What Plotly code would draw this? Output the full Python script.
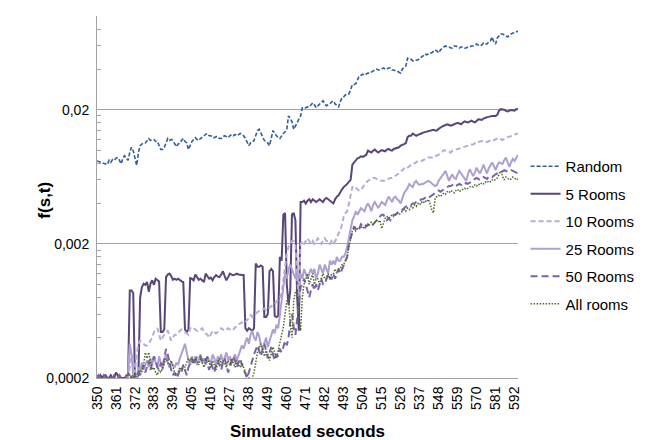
import plotly.graph_objects as go

seconds = list(range(350, 595))
tick_seconds = [350, 361, 372, 383, 394, 405, 416, 427, 438, 449, 460, 471,
                482, 493, 504, 515, 526, 537, 548, 559, 570, 581, 592]
y_major = [0.0002, 0.002, 0.02]
y_major_text = ["0,0002", "0,002", "0,02"]
y_minor = [0.0004, 0.0006, 0.0008, 0.0010, 0.0012, 0.0014, 0.0016, 0.0018,
           0.004, 0.006, 0.008, 0.010, 0.012, 0.014, 0.016, 0.018,
           0.04, 0.06, 0.08, 0.1]

random_vals = [
    0.0083, 0.0082, 0.0081, 0.0081, 0.0079, 0.0079, 0.0078, 0.0084, 0.0081, 0.0085,
    0.0084, 0.0087, 0.0088, 0.0084, 0.0079, 0.0087, 0.0091, 0.0087, 0.0084, 0.0096,
    0.0105, 0.0099, 0.0087, 0.0077, 0.0096, 0.0108, 0.0111, 0.0113, 0.0113, 0.0118,
    0.0122, 0.0118, 0.0120, 0.0120, 0.0116, 0.0116, 0.0108, 0.0101, 0.0101, 0.0105,
    0.0113, 0.0122, 0.0118, 0.0120, 0.0118, 0.0111, 0.0106, 0.0111, 0.0113, 0.0118,
    0.0122, 0.0116, 0.0113, 0.0101, 0.0108, 0.0116, 0.0120, 0.0124, 0.0120, 0.0118,
    0.0122, 0.0126, 0.0128, 0.0131, 0.0133, 0.0128, 0.0128, 0.0124, 0.0124, 0.0126,
    0.0126, 0.0122, 0.0122, 0.0126, 0.0128, 0.0126, 0.0124, 0.0128, 0.0131, 0.0128,
    0.0131, 0.0128, 0.0131, 0.0133, 0.0131, 0.0128, 0.0122, 0.0114, 0.0108, 0.0113,
    0.0114, 0.0118, 0.0128, 0.0140, 0.0143, 0.0135, 0.0128, 0.0118, 0.0116, 0.0113,
    0.0108, 0.0124, 0.0140, 0.0133, 0.0128, 0.0124, 0.0122, 0.0128, 0.0133, 0.0137,
    0.0143, 0.0180, 0.0173, 0.0163, 0.0143, 0.0152, 0.0157, 0.0168, 0.0180, 0.0207,
    0.0205, 0.0207, 0.0210, 0.0210, 0.0218, 0.0225, 0.0218, 0.0207, 0.0214, 0.0221,
    0.0229, 0.0233, 0.0221, 0.0214, 0.0218, 0.0221, 0.0229, 0.0233, 0.0221, 0.0214,
    0.0210, 0.0229, 0.0246, 0.0250, 0.0259, 0.0259, 0.0263, 0.0282, 0.0308, 0.0308,
    0.0313, 0.0335, 0.0358, 0.0362, 0.0368, 0.0362, 0.0368, 0.0375, 0.0375, 0.0381,
    0.0390, 0.0396, 0.0402, 0.0396, 0.0396, 0.0402, 0.0410, 0.0402, 0.0402, 0.0410,
    0.0410, 0.0396, 0.0396, 0.0390, 0.0390, 0.0381, 0.0375, 0.0402, 0.0416, 0.0425,
    0.0485, 0.0477, 0.0477, 0.0463, 0.0463, 0.0470, 0.0470, 0.0485, 0.0493, 0.0504,
    0.0522, 0.0513, 0.0522, 0.0531, 0.0531, 0.0549, 0.0558, 0.0549, 0.0531, 0.0558,
    0.0577, 0.0588, 0.0598, 0.0588, 0.0588, 0.0577, 0.0577, 0.0598, 0.0598, 0.0588,
    0.0577, 0.0588, 0.0588, 0.0577, 0.0577, 0.0588, 0.0588, 0.0598, 0.0598, 0.0607,
    0.0618, 0.0607, 0.0598, 0.0607, 0.0629, 0.0618, 0.0618, 0.0640, 0.0652, 0.0697,
    0.0640, 0.0618, 0.0686, 0.0710, 0.0735, 0.0735, 0.0722, 0.0710, 0.0697, 0.0722,
    0.0735, 0.0747, 0.0747, 0.0760, 0.0773,
]

rooms5_vals = [
    0.00021, 0.00020, 0.00021, 0.00020, 0.00021, 0.00021, 0.00020, 0.00020, 0.00021, 0.00020,
    0.00020, 0.00022, 0.00021, 0.00020, 0.00020, 0.00020, 0.00020, 0.00020, 0.00021, 0.00090,
    0.00090, 0.00086, 0.00020, 0.00020, 0.00021, 0.00080, 0.00095, 0.00101, 0.00099, 0.00104,
    0.00088, 0.00101, 0.00107, 0.00099, 0.00110, 0.00107, 0.00105, 0.00044, 0.00044, 0.00046,
    0.00113, 0.00118, 0.00120, 0.00115, 0.00108, 0.00110, 0.00108, 0.00110, 0.00107, 0.00105,
    0.00104, 0.00046, 0.00044, 0.00046, 0.00111, 0.00110, 0.00107, 0.00118, 0.00113, 0.00108,
    0.00110, 0.00107, 0.00104, 0.00120, 0.00115, 0.00110, 0.00112, 0.00107, 0.00113, 0.00117,
    0.00114, 0.00113, 0.00118, 0.00125, 0.00115, 0.00107, 0.00113, 0.00120, 0.00118, 0.00117,
    0.00118, 0.00120, 0.00118, 0.00117, 0.00117, 0.00117, 0.00047, 0.00045, 0.00047, 0.00046,
    0.00045, 0.00047, 0.00143, 0.00135, 0.00135, 0.00138, 0.00135, 0.00057, 0.00057, 0.00060,
    0.00125, 0.00130, 0.00125, 0.00058, 0.00057, 0.00058, 0.00160, 0.00150, 0.00330, 0.00340,
    0.00100, 0.00070, 0.00090, 0.00330, 0.00340, 0.00300, 0.00080, 0.00045, 0.00410, 0.00410,
    0.0042, 0.0040, 0.0042, 0.0043, 0.0041, 0.0043, 0.0042, 0.0041, 0.0042, 0.0043,
    0.0042, 0.0041, 0.0043, 0.0044, 0.0043, 0.0042, 0.0041, 0.0040, 0.0043, 0.0045,
    0.0046, 0.0049, 0.0051, 0.0053, 0.0055, 0.0056, 0.0058, 0.0060, 0.0078, 0.0081,
    0.0084, 0.0087, 0.0088, 0.0090, 0.0089, 0.0090, 0.0092, 0.0099, 0.0098, 0.0096,
    0.0099, 0.0101, 0.0098, 0.0096, 0.0098, 0.0100, 0.0099, 0.0098, 0.0101, 0.0102,
    0.0100, 0.0099, 0.0102, 0.0103, 0.0104, 0.0105, 0.0108, 0.0109, 0.0111, 0.0113,
    0.0125, 0.0128, 0.0128, 0.0133, 0.0131, 0.0128, 0.0130, 0.0131, 0.0133, 0.0135,
    0.0136, 0.0137, 0.0138, 0.0140, 0.0141, 0.0142, 0.0140, 0.0140, 0.0144, 0.0148,
    0.0150, 0.0152, 0.0154, 0.0156, 0.0154, 0.0152, 0.0154, 0.0156, 0.0158, 0.0160,
    0.0158, 0.0156, 0.0160, 0.0164, 0.0162, 0.0161, 0.0163, 0.0166, 0.0163, 0.0161,
    0.0165, 0.0170, 0.0169, 0.0168, 0.0172, 0.0175, 0.0176, 0.0177, 0.0179, 0.0180,
    0.0180, 0.0180, 0.0183, 0.0197, 0.0202, 0.0202, 0.0200, 0.0196, 0.0194, 0.0197,
    0.0199, 0.0198, 0.0197, 0.0202, 0.0203,
]

rooms10_vals = [
    0.00019, 0.00019, 0.00019, 0.00019, 0.00019, 0.00019, 0.00019, 0.00019, 0.00019, 0.00019,
    0.00019, 0.00019, 0.00019, 0.00019, 0.00019, 0.00019, 0.00019, 0.00019, 0.00020, 0.00025,
    0.00030, 0.00026, 0.00022, 0.00030, 0.00036, 0.00038, 0.00037, 0.00036, 0.00035, 0.00035,
    0.00036, 0.00038, 0.00040, 0.00044, 0.00046, 0.00047, 0.00042, 0.00038, 0.00040, 0.00042,
    0.00044, 0.00045, 0.00041, 0.00038, 0.00040, 0.00042, 0.00042, 0.00043, 0.00045, 0.00046,
    0.00045, 0.00044, 0.00043, 0.00042, 0.00047, 0.00048, 0.00047, 0.00046, 0.00045, 0.00046,
    0.00046, 0.00047, 0.00044, 0.00043, 0.00042, 0.00040, 0.00043, 0.00045, 0.00044, 0.00043,
    0.00044, 0.00045, 0.00047, 0.00046, 0.00045, 0.00046, 0.00047, 0.00046, 0.00045, 0.00046,
    0.00048, 0.00049, 0.00050, 0.00051, 0.00052, 0.00051, 0.00053, 0.00054, 0.00056, 0.00059,
    0.00057, 0.00059, 0.00061, 0.00062, 0.00063, 0.00064, 0.00065, 0.00066, 0.00064, 0.00065,
    0.00067, 0.00068, 0.00070, 0.00072, 0.00074, 0.00076, 0.00079, 0.00085, 0.0011, 0.0014,
    0.0017, 0.0019, 0.0020, 0.0021, 0.0021, 0.0020, 0.0011, 0.0008, 0.0020, 0.0021,
    0.0020, 0.0021, 0.0022, 0.0021, 0.0020, 0.0021, 0.0020, 0.0021, 0.0022, 0.0021,
    0.0020, 0.0021, 0.0022, 0.0021, 0.0021, 0.0020, 0.0021, 0.0020, 0.0021, 0.0022,
    0.0024, 0.0025, 0.0028, 0.0032, 0.0034, 0.0035, 0.0040, 0.0045, 0.0053, 0.0054,
    0.0052, 0.0051, 0.0050, 0.0050, 0.0053, 0.0055, 0.0057, 0.0059, 0.0060, 0.0061,
    0.0062, 0.0062, 0.0061, 0.0060, 0.0060, 0.0059, 0.0059, 0.0059, 0.0060, 0.0061,
    0.0062, 0.0062, 0.0063, 0.0064, 0.0065, 0.0067, 0.0069, 0.0071, 0.0073, 0.0072,
    0.0074, 0.0077, 0.0078, 0.0078, 0.0080, 0.0082, 0.0083, 0.0084, 0.0083, 0.0084,
    0.0086, 0.0087, 0.0088, 0.0088, 0.0087, 0.0088, 0.0090, 0.0091, 0.0092, 0.0094,
    0.0097, 0.0100, 0.0099, 0.0098, 0.0097, 0.0096, 0.0099, 0.0100, 0.0101, 0.0102,
    0.0103, 0.0104, 0.0105, 0.0106, 0.0108, 0.0109, 0.0110, 0.0110, 0.0110, 0.0112,
    0.0115, 0.0115, 0.0116, 0.0117, 0.0116, 0.0114, 0.0115, 0.0117, 0.0118, 0.0117,
    0.0119, 0.0121, 0.0122, 0.0124, 0.0121, 0.0119, 0.0121, 0.0124, 0.0125, 0.0126,
    0.0127, 0.0128, 0.0130, 0.0132, 0.0133,
]

rooms25_vals = [
    0.00019, 0.00019, 0.00019, 0.00019, 0.00019, 0.00019, 0.00019, 0.00019, 0.00019, 0.00019,
    0.00019, 0.00019, 0.00019, 0.00019, 0.00019, 0.00019, 0.00019, 0.00019, 0.00022, 0.00036,
    0.00030, 0.00021, 0.00020, 0.00020, 0.00024, 0.00022, 0.00026, 0.00023, 0.00025, 0.00027,
    0.00024, 0.00028, 0.00025, 0.00029, 0.00026, 0.00024, 0.00029, 0.00025, 0.00023, 0.00027,
    0.00030, 0.00026, 0.00024, 0.00026, 0.00025, 0.00024, 0.00026, 0.00025, 0.00028, 0.00030,
    0.00033, 0.00036, 0.00030, 0.00027, 0.00025, 0.00028, 0.00026, 0.00029, 0.00025, 0.00027,
    0.00030, 0.00026, 0.00028, 0.00025, 0.00029, 0.00027, 0.00026, 0.00030, 0.00028, 0.00025,
    0.00029, 0.00027, 0.00030, 0.00026, 0.00028, 0.00031, 0.00027, 0.00029, 0.00026, 0.00028,
    0.00030, 0.00027, 0.00029, 0.00032, 0.00035, 0.00033, 0.00037, 0.00040, 0.00036, 0.00042,
    0.00045, 0.00040, 0.00038, 0.00044, 0.00041, 0.00035, 0.00033, 0.00036, 0.00040, 0.00034,
    0.00038, 0.00042, 0.00046, 0.00043, 0.00050, 0.00047, 0.00060, 0.00075, 0.00095, 0.0012,
    0.0011, 0.0013, 0.0014, 0.0013, 0.0012, 0.0011, 0.0012, 0.0011, 0.0012, 0.0011,
    0.0013, 0.0012, 0.0011, 0.0012, 0.0013, 0.0012, 0.0013, 0.0011, 0.0012, 0.0014,
    0.0013, 0.0012, 0.0014, 0.0013, 0.0012, 0.0015, 0.0014, 0.0015, 0.0014, 0.0016,
    0.0015, 0.0015, 0.0016, 0.0016, 0.0017, 0.0019, 0.0022, 0.0025, 0.0030, 0.0032,
    0.0035, 0.0033, 0.0035, 0.0037, 0.0036, 0.0035, 0.0038, 0.0040, 0.0038, 0.0035,
    0.0039, 0.0041, 0.0039, 0.0037, 0.0039, 0.0041, 0.0040, 0.0039, 0.0042, 0.0045,
    0.0043, 0.0041, 0.0044, 0.0045, 0.0043, 0.0042, 0.0040, 0.0044, 0.0048, 0.0050,
    0.0052, 0.0056, 0.0054, 0.0053, 0.0057, 0.0059, 0.0056, 0.0055, 0.0056, 0.0056,
    0.0057, 0.0058, 0.0059, 0.0058, 0.0056, 0.0055, 0.0054, 0.0055, 0.0059, 0.0062,
    0.0064, 0.0067, 0.0070, 0.0064, 0.0059, 0.0063, 0.0066, 0.0062, 0.0061, 0.0066,
    0.0070, 0.0067, 0.0064, 0.0061, 0.0059, 0.0066, 0.0072, 0.0068, 0.0064, 0.0068,
    0.0074, 0.0070, 0.0067, 0.0072, 0.0078, 0.0072, 0.0067, 0.0073, 0.0078, 0.0081,
    0.0076, 0.0071, 0.0077, 0.0081, 0.0080, 0.0079, 0.0084, 0.0088, 0.0081, 0.0075,
    0.0081, 0.0086, 0.0083, 0.0088, 0.0092,
]

rooms50_vals = [
    0.00020, 0.00021, 0.00020, 0.00020, 0.00021, 0.00020, 0.00020, 0.00021, 0.00020, 0.00020,
    0.00021, 0.00020, 0.00020, 0.00021, 0.00020, 0.00020, 0.00020, 0.00021, 0.00021, 0.00022,
    0.00020, 0.00020, 0.00021, 0.00021, 0.00022, 0.00021, 0.00023, 0.00025, 0.00022, 0.00024,
    0.00027, 0.00023, 0.00026, 0.00029, 0.00027, 0.00024, 0.00023, 0.00026, 0.00024, 0.00028,
    0.00033, 0.00030, 0.00026, 0.00023, 0.00021, 0.00022, 0.00020, 0.00021, 0.00023, 0.00022,
    0.00025, 0.00023, 0.00021, 0.00024, 0.00026, 0.00028, 0.00025, 0.00027, 0.00029, 0.00028,
    0.00029, 0.00027, 0.00026, 0.00028, 0.00025, 0.00023, 0.00026, 0.00024, 0.00022, 0.00025,
    0.00027, 0.00025, 0.00023, 0.00026, 0.00028, 0.00025, 0.00022, 0.00024, 0.00026, 0.00029,
    0.00027, 0.00024, 0.00026, 0.00028, 0.00025, 0.00023, 0.00021, 0.00020, 0.00022, 0.00024,
    0.00027, 0.00030, 0.00033, 0.00035, 0.00032, 0.00029, 0.00033, 0.00036, 0.00032, 0.00028,
    0.00031, 0.00034, 0.00030, 0.00027, 0.00030, 0.00029, 0.00033, 0.00031, 0.00034, 0.00038,
    0.00035, 0.00040, 0.00052, 0.00060, 0.00048, 0.00042, 0.00055, 0.00075, 0.00095, 0.0010,
    0.0011, 0.0010, 0.0009, 0.0008, 0.0009, 0.0010, 0.0009, 0.0010, 0.0009, 0.0010,
    0.0011, 0.0010, 0.0010, 0.0011, 0.0012, 0.0011, 0.0011, 0.0012, 0.0011, 0.0012,
    0.0013, 0.0012, 0.0013, 0.0014, 0.0015, 0.0016, 0.0020, 0.0022, 0.0024, 0.0027,
    0.0026, 0.0025, 0.0026, 0.0028, 0.0027, 0.0026, 0.0027, 0.0028, 0.0027, 0.0027,
    0.0028, 0.0029, 0.0030, 0.0031, 0.0032, 0.0033, 0.0033, 0.0031, 0.0030, 0.0031,
    0.0030, 0.0032, 0.0033, 0.0033, 0.0034, 0.0035, 0.0035, 0.0036, 0.0037, 0.0038,
    0.0038, 0.0039, 0.0039, 0.0040, 0.0040, 0.0041, 0.0041, 0.0042, 0.0043, 0.0043,
    0.0044, 0.0045, 0.0044, 0.0045, 0.0046, 0.0047, 0.0048, 0.0049, 0.0050, 0.0049,
    0.0050, 0.0051, 0.0052, 0.0053, 0.0054, 0.0054, 0.0055, 0.0053, 0.0054, 0.0055,
    0.0056, 0.0055, 0.0054, 0.0056, 0.0057, 0.0056, 0.0057, 0.0058, 0.0060, 0.0061,
    0.0062, 0.0061, 0.0060, 0.0062, 0.0063, 0.0062, 0.0061, 0.0063, 0.0064, 0.0063,
    0.0065, 0.0066, 0.0067, 0.0068, 0.0068, 0.0070, 0.0071, 0.0070, 0.0069, 0.0070,
    0.0071, 0.0070, 0.0069, 0.0068, 0.0067,
]

all_rooms_vals = [
    0.00019, 0.00019, 0.00019, 0.00019, 0.00019, 0.00019, 0.00019, 0.00019, 0.00019, 0.00019,
    0.00019, 0.00019, 0.00019, 0.00019, 0.00019, 0.00019, 0.00019, 0.00020, 0.00022, 0.00021,
    0.00020, 0.00021, 0.00020, 0.00021, 0.00022, 0.00023, 0.00022, 0.00025, 0.00031, 0.00028,
    0.00031, 0.00026, 0.00023, 0.00024, 0.00022, 0.00021, 0.00023, 0.00022, 0.00024, 0.00026,
    0.00028, 0.00026, 0.00025, 0.00027, 0.00024, 0.00022, 0.00021, 0.00022, 0.00024, 0.00023,
    0.00025, 0.00024, 0.00026, 0.00028, 0.00027, 0.00029, 0.00026, 0.00028, 0.00027, 0.00025,
    0.00028, 0.00026, 0.00024, 0.00027, 0.00029, 0.00026, 0.00024, 0.00027, 0.00025, 0.00023,
    0.00026, 0.00028, 0.00025, 0.00027, 0.00026, 0.00024, 0.00027, 0.00025, 0.00028, 0.00026,
    0.00024, 0.00027, 0.00025, 0.00024, 0.00026, 0.00024, 0.00022, 0.00021, 0.00020, 0.00019,
    0.00020, 0.00022, 0.00026, 0.00031, 0.00034, 0.00036, 0.00033, 0.00029, 0.00032, 0.00030,
    0.00027, 0.00030, 0.00034, 0.00031, 0.00028, 0.00032, 0.00036, 0.00042, 0.00048, 0.00060,
    0.00075, 0.00078, 0.00050, 0.00040, 0.00075, 0.00088, 0.00092, 0.00060, 0.00045, 0.00080,
    0.0010, 0.0011, 0.0012, 0.0010, 0.0011, 0.0012, 0.0010, 0.0011, 0.0011, 0.0010,
    0.0011, 0.0012, 0.0011, 0.0011, 0.0012, 0.0011, 0.0012, 0.0012, 0.0013, 0.0012,
    0.0013, 0.0013, 0.0014, 0.0014, 0.0015, 0.0016, 0.0019, 0.0022, 0.0025, 0.0026,
    0.0025, 0.0026, 0.0026, 0.0027, 0.0026, 0.0027, 0.0028, 0.0027, 0.0028, 0.0029,
    0.0028, 0.0029, 0.0030, 0.0029, 0.0030, 0.0026, 0.0029, 0.0031, 0.0032, 0.0031,
    0.0032, 0.0033, 0.0032, 0.0033, 0.0034, 0.0033, 0.0034, 0.0035, 0.0036, 0.0035,
    0.0037, 0.0036, 0.0038, 0.0037, 0.0039, 0.0038, 0.0040, 0.0039, 0.0041, 0.0040,
    0.0042, 0.0041, 0.0043, 0.0040, 0.0036, 0.0034, 0.0044, 0.0045, 0.0046, 0.0045,
    0.0047, 0.0048, 0.0047, 0.0049, 0.0048, 0.0050, 0.0049, 0.0048, 0.0050, 0.0051,
    0.0049, 0.0050, 0.0051, 0.0052, 0.0051, 0.0052, 0.0053, 0.0054, 0.0053, 0.0055,
    0.0054, 0.0056, 0.0055, 0.0057, 0.0056, 0.0058, 0.0057, 0.0059, 0.0058, 0.0060,
    0.0059, 0.0061, 0.0062, 0.0066, 0.0070, 0.0064, 0.0060, 0.0063, 0.0062, 0.0060,
    0.0061, 0.0063, 0.0062, 0.0060, 0.0061,
]

series = [
    ("Random", random_vals, "#2f5f98", "4px,2px", 1.6),
    ("5 Rooms", rooms5_vals, "#584579", "solid", 2.0),
    ("10 Rooms", rooms10_vals, "#b9abd4", "5px,3px", 2.0),
    ("25 Rooms", rooms25_vals, "#ae9fd0", "solid", 2.0),
    ("50 Rooms", rooms50_vals, "#7c62a8", "7px,4px", 2.0),
    ("All rooms", all_rooms_vals, "#4d6a26", "1.5px,1.5px", 1.5),
]

for name, vals, *_ in series:
    assert len(vals) == len(seconds), (name, len(vals))

fig = go.Figure()
for i, (name, vals, color, dash, width) in enumerate(series):
    fig.add_trace(go.Scatter(
        x=seconds, y=vals, mode="lines", name=name,
        line=dict(color=color, dash=dash, width=width),
        legendgroup=f"g{i}",
    ))

axis_col = "#a3a3a3"
fig.update_layout(
    width=646, height=440,
    margin=dict(l=89, r=136, t=8, b=70),
    paper_bgcolor="white", plot_bgcolor="white",
    font=dict(family="Liberation Sans, Arial, sans-serif", size=14, color="#000"),
    showlegend=True,
    legend=dict(
        x=1.018, y=0.63, xanchor="left", yanchor="top",
        font=dict(size=15, color="#000"),
        traceorder="grouped", tracegroupgap=5,
        bgcolor="rgba(0,0,0,0)",
    ),
    xaxis=dict(
        range=[350, 594], automargin=False,
        tickmode="array", tickvals=tick_seconds,
        ticktext=[str(t) for t in tick_seconds],
        tickangle=-90, ticks="", showgrid=False, zeroline=False,
        showline=True, linecolor=axis_col, linewidth=1,
        tickfont=dict(size=14), ticklabelstandoff=2,
        title=dict(text="<b>Simulated seconds</b>", font=dict(size=17), standoff=16),
    ),
    yaxis=dict(
        type="log", automargin=False,
        range=[-3.69897, -1.0],
        tickmode="array", tickvals=y_major, ticktext=y_major_text,
        ticks="inside", ticklen=5, tickcolor=axis_col,
        showgrid=True, gridcolor=axis_col, gridwidth=1,
        showline=True, linecolor=axis_col, linewidth=1,
        zeroline=False,
        tickfont=dict(size=14), ticklabelstandoff=4,
        minor=dict(tickmode="array", tickvals=y_minor, ticks="inside",
                   ticklen=4, tickcolor=axis_col, showgrid=False),
    ),
    annotations=[dict(
        text="<b>f(s,t)</b>", textangle=-90, showarrow=False,
        xref="paper", yref="paper", x=-0.1235, y=0.49,
        xanchor="center", yanchor="middle",
        font=dict(size=17, color="#000"),
    )],
)

fig.write_html("out.html")
